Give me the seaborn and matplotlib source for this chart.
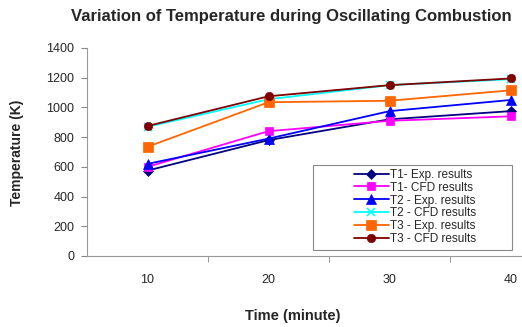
import matplotlib
matplotlib.use("Agg")
import matplotlib.pyplot as plt
from matplotlib.patches import Rectangle
import seaborn as sns
import pandas as pd
import numpy as np

# data
times = ["10", "20", "30", "40"]
series_names = ["T1- Exp. results", "T1- CFD results", "T2 - Exp. results",
                "T2 - CFD results", "T3 - Exp. results", "T3 - CFD results"]
t1_exp = [575, 780, 920, 975]
t1_cfd = [600, 840, 910, 940]
t2_exp = [620, 790, 975, 1050]
t2_cfd = [870, 1055, 1150, 1190]
t3_exp = [735, 1035, 1045, 1115]
t3_cfd = [875, 1075, 1150, 1195]

colors = ["#000080", "#FF00FF", "#0000FF", "#00FFFF", "#FF6600", "#800000"]
markers = ["D", "s", "^", "x", "s", "o"]
msizes = [5, 6, 7, 6, 7, 6]

all_vals = [t1_exp, t1_cfd, t2_exp, t2_cfd, t3_exp, t3_cfd]
rows = []
for name, vals in zip(series_names, all_vals):
    for i, v in enumerate(vals):
        rows.append({"pos": i, "Temperature": v, "series": name})
df = pd.DataFrame(rows)

sns.set_style("white")
plt.rcParams["font.family"] = ["Liberation Sans", "DejaVu Sans"]

fig = plt.figure(figsize=(5.22, 3.27), dpi=100)
# axis extends past the right edge, as in the cropped reference
ax = fig.add_axes([87 / 522, 1 - 256 / 327, (571 - 87) / 522, (256 - 48) / 327])

for name, c, m, ms in zip(series_names, colors, markers, msizes):
    sub = df[df["series"] == name]
    sns.lineplot(data=sub, x="pos", y="Temperature", color=c, marker=m,
                 markersize=ms, markeredgecolor=c, markeredgewidth=1.2 if m == "x" else 0.5,
                 linewidth=1.3, label=name, ax=ax, legend=True)

ax.set_xlim(-0.5, 3.5)
ax.set_ylim(0, 1400)
ax.set_yticks(np.arange(0, 1401, 200))
ax.set_xticks(range(len(times)))
ax.set_xticklabels(times)
ax.set_xticks([0.5, 1.5, 2.5], minor=True)
ax.tick_params(axis="x", which="major", length=0, labelsize=9, pad=13)
ax.tick_params(axis="x", which="minor", length=4, color="#888888", direction="out", bottom=True)
ax.tick_params(axis="y", length=4, color="#888888", direction="out", left=True,
               labelsize=9, pad=5)

for s in ["top", "right"]:
    ax.spines[s].set_visible(False)
for s in ["left", "bottom"]:
    ax.spines[s].set_color("#999999")
    ax.spines[s].set_linewidth(0.8)

ax.set_xlabel("")
ax.set_ylabel("")
fig.text(293 / 522, 1 - 316 / 327, "Time (minute)", ha="center", va="center",
         fontsize=10.5, fontweight="bold")
fig.text(17 / 522, 1 - 153 / 327, "Temperature (K)", ha="center", va="center",
         rotation=90, fontsize=10, fontweight="bold")
fig.text(291 / 522, 1 - 16 / 327, "Variation of Temperature during Oscillating Combustion",
         ha="center", va="center", fontsize=12, fontweight="bold")

# legend frame drawn separately: it is wider than its content
ax.add_patch(Rectangle((313 / 522, 1 - 250 / 327), (512 - 313) / 522, 85 / 327,
                       transform=fig.transFigure, facecolor="white", clip_on=False,
                       edgecolor="#888888", linewidth=0.8, zorder=4))
leg = ax.legend(loc="center", bbox_to_anchor=(415 / 522, 1 - 207 / 327),
                bbox_transform=fig.transFigure, frameon=False,
                fontsize=8.5, handlelength=3, labelspacing=0.08, borderpad=0,
                handletextpad=0.1, borderaxespad=0)
leg.set_zorder(5)

fig.savefig("out.png", dpi=100)
